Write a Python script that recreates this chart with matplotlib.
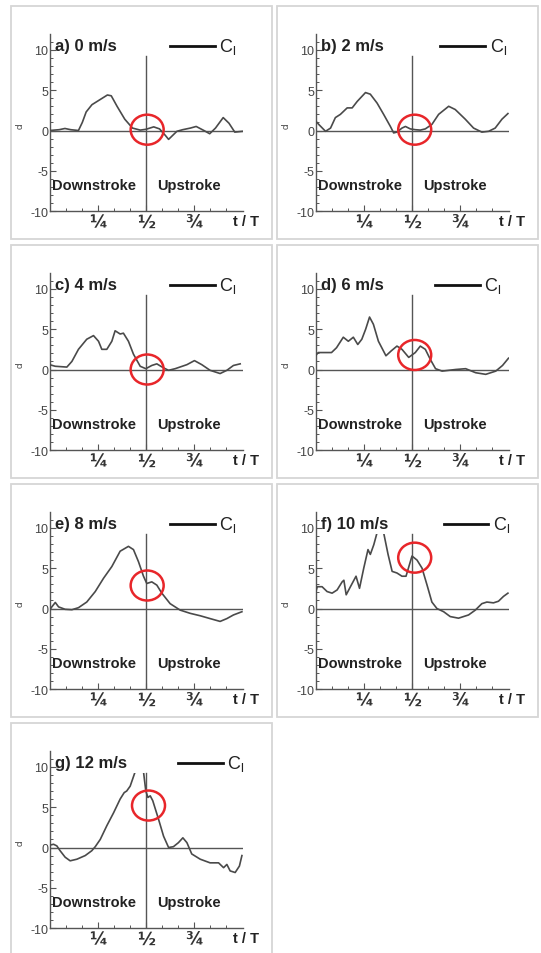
import numpy as np
import matplotlib
matplotlib.use('Agg')
import matplotlib.pyplot as plt
from matplotlib.patches import Ellipse, Rectangle
from matplotlib.ticker import FixedLocator
import matplotlib.transforms as mtrans

plt.rcParams['font.family'] = ['Liberation Sans', 'DejaVu Sans']
plt.rcParams['axes.unicode_minus'] = False

# ---------------- data ----------------
titles = ['a) 0 m/s', 'b) 2 m/s', 'c) 4 m/s', 'd) 6 m/s', 'e) 8 m/s', 'f) 10 m/s', 'g) 12 m/s']

t_a = [0, .05, .08, .11, .15, .17, .19, .22, .26, .30, .32, .35, .39, .43, .47, .50, .54, .57, .60, .617, .66, .69, .73, .76, .80, .83, .86, .90, .93, .96, 1.0]
cl_a = [0, .1, .25, .1, 0, 1.0, 2.3, 3.2, 3.8, 4.4, 4.3, 3.0, 1.4, .3, .05, .15, .45, .2, -.6, -1.1, -.1, .1, .3, .5, 0, -.4, .3, 1.6, .9, -.2, -.1]

t_b = [0, .017, .052, .078, .103, .129, .164, .19, .216, .259, .284, .319, .353, .388, .405, .422, .448, .466, .491, .517, .543, .569, .603, .638, .69, .724, .776, .819, .862, .897, .931, .966, .997]
cl_b = [1.2, .75, -.1, .3, 1.6, 2.0, 2.8, 2.8, 3.6, 4.7, 4.5, 3.4, 2.0, .5, -.3, -.2, .3, .5, .2, .1, .05, .2, .75, 2.0, 3.0, 2.6, 1.4, .3, -.2, -.1, .3, 1.4, 2.1]

t_c = [0, .03, .09, .116, .15, .193, .228, .254, .271, .297, .323, .34, .366, .383, .409, .435, .47, .499, .53, .556, .591, .617, .651, .712, .751, .789, .832, .884, .919, .953, .988]
cl_c = [.6, .4, .3, 1.0, 2.5, 3.75, 4.2, 3.5, 2.5, 2.5, 3.5, 4.8, 4.4, 4.5, 3.5, 1.9, .4, .1, .5, .7, .2, -.1, .1, .6, 1.1, .6, -.1, -.5, -.1, .5, .7]

t_d = [0, .014, .049, .083, .109, .144, .17, .196, .219, .24, .26, .28, .3, .326, .365, .392, .422, .448, .483, .517, .543, .569, .595, .622, .656, .726, .778, .83, .882, .934, .969, 1.0]
cl_d = [1.7, 2.1, 2.1, 2.1, 2.7, 4.0, 3.5, 4.0, 3.1, 3.75, 5.0, 6.5, 5.6, 3.5, 1.7, 2.3, 2.9, 2.5, 1.5, 2.1, 2.9, 2.5, 1.25, .1, -.2, 0, .1, -.4, -.6, -.2, .5, 1.4]

t_e = [0, .012, .03, .047, .081, .116, .15, .193, .237, .28, .323, .366, .409, .435, .461, .487, .504, .53, .556, .582, .625, .677, .729, .781, .832, .884, .919, .953, .997]
cl_e = [-.2, .2, .75, .2, -.1, -.15, .1, .8, 2.1, 3.75, 5.2, 7.1, 7.7, 7.3, 5.8, 4.0, 3.1, 3.3, 2.9, 1.9, .6, -.2, -.6, -.9, -1.25, -1.6, -1.25, -.8, -.4]

t_f = [0, .009, .034, .06, .086, .112, .138, .147, .159, .181, .21, .228, .25, .272, .284, .302, .319, .336, .353, .376, .397, .422, .448, .469, .5, .526, .552, .578, .603, .629, .664, .698, .741, .793, .828, .862, .888, .922, .948, .974, .997]
cl_f = [1.9, 2.7, 2.7, 2.1, 1.9, 2.3, 3.3, 3.5, 1.7, 2.7, 4.0, 2.5, 5.0, 7.3, 6.7, 7.9, 9.4, 10.8, 9.4, 6.7, 4.6, 4.4, 4.0, 4.0, 6.5, 6.0, 5.0, 2.9, .8, 0, -.4, -1.0, -1.2, -.8, -.2, .6, .8, .7, .9, 1.5, 1.9]

t_g = [0, .003, .021, .038, .055, .081, .107, .142, .185, .219, .237, .263, .297, .332, .366, .387, .4, .418, .444, .47, .487, .499, .51, .522, .535, .565, .591, .617, .642, .668, .691, .712, .737, .781, .832, .876, .902, .919, .936, .962, .984, .997]
cl_g = [-.2, .3, .4, .2, -.4, -1.2, -1.65, -1.45, -1.0, -.4, .1, 1.0, 2.7, 4.3, 6.0, 6.8, 7.0, 7.6, 9.4, 11.0, 9.4, 7.0, 6.2, 6.4, 5.8, 3.5, 1.4, 0, .1, .6, 1.2, .6, -.8, -1.45, -1.9, -1.9, -2.5, -2.1, -2.9, -3.1, -2.3, -1.0]

# red circle centres (t, cl)
circ_t = [0.506, 0.514, 0.506, 0.514, 0.506, 0.514, 0.513]
circ_c = [0.1, 0.1, 0.0, 1.8, 2.85, 6.3, 5.2]

series_t = [t_a, t_b, t_c, t_d, t_e, t_f, t_g]
series_c = [cl_a, cl_b, cl_c, cl_d, cl_e, cl_f, cl_g]

xtick_pos = [0.25, 0.5, 0.75]
xtick_lab = ['\u00bc', '\u00bd', '\u00be']
ytick_pos = [-10, -5, 0, 5, 10]

# legend line start per panel (axes t-units)
leg_x = [0.625, 0.647, 0.625, 0.62, 0.625, 0.666, 0.667]

# ---------------- layout ----------------
W, H = 541, 954
fig = plt.figure(figsize=(W / 100, H / 100), dpi=100)

box_left = [11, 277]
box_top = [7, 246, 485, 724]
box_w, box_h = 261, 233
ax_w = 193
px_per_unit = 8.07

gray = '#555555'
for i in range(7):
    row, col = divmod(i, 2)
    bl = box_left[col]
    bt = box_top[row]
    fig.add_artist(Rectangle((bl / W, 1 - (bt + box_h) / H), box_w / W, box_h / H,
                             transform=fig.transFigure, fill=False, ec='#d6d6d6', lw=1.3))
    y0 = bt + 124.5
    top = y0 - 12 * px_per_unit
    bot = y0 + 10 * px_per_unit
    left = bl + 38.5
    ax = fig.add_axes([left / W, 1 - bot / H, ax_w / W, (bot - top) / H])
    ax.set_xlim(0, 1)
    ax.set_ylim(-10, 12)
    for s in ['top', 'right']:
        ax.spines[s].set_visible(False)
    for s in ['left', 'bottom']:
        ax.spines[s].set_color(gray)
        ax.spines[s].set_linewidth(1.0)
    ax.set_facecolor('none')

    ax.xaxis.set_major_locator(FixedLocator(xtick_pos))
    ax.set_xticklabels(xtick_lab)
    ax.xaxis.set_minor_locator(FixedLocator([k / 12 for k in range(1, 12) if k % 3 != 0]))
    ax.yaxis.set_major_locator(FixedLocator(ytick_pos))
    ax.yaxis.set_minor_locator(FixedLocator([v for v in range(-9, 12) if v % 5 != 0]))
    ax.tick_params(which='major', direction='in', length=4, width=0.8, color=gray)
    ax.tick_params(which='minor', direction='in', length=2.5, width=0.7, color=gray)
    ax.tick_params(axis='y', which='major', labelsize=9, labelcolor='#444444', pad=1)
    ax.tick_params(axis='x', which='major', labelsize=12.5, labelcolor='#333333', pad=1.5)
    for lab in ax.get_xticklabels():
        lab.set_fontweight('bold')
        lab.set_family(['DejaVu Sans'])

    # reference lines
    ax.plot([0, 1], [0, 0], color=gray, lw=1.0, zorder=2)
    ax.plot([0.5, 0.5], [-10, 9.2], color=gray, lw=1.0, zorder=2)

    # curve clipped at the top of the vertical line
    line, = ax.plot(series_t[i], series_c[i], color='#4a4a4a', lw=1.2, zorder=3)
    clip = Rectangle((0, -10), 1, 19.2, transform=ax.transData)
    line.set_clip_path(clip)

    # red circle
    ax.add_patch(Ellipse((circ_t[i], circ_c[i]), 33 / ax_w, 30 / px_per_unit,
                         fill=False, ec='#e8262a', lw=1.8, zorder=4))

    # texts
    ax.text(0.03, 10.5, titles[i], fontsize=12, fontweight='bold', color='#222222',
            ha='left', va='center', clip_on=False)
    ax.plot([leg_x[i], leg_x[i] + 0.23], [10.5, 10.5], color='#111111', lw=2.0, clip_on=False)
    ax.text(leg_x[i] + 0.255, 10.5, r'C$_\mathregular{l}$', fontsize=13, color='#222222',
            ha='left', va='center', clip_on=False)
    ax.text(0.014, -6.8, 'Downstroke', fontsize=10.5, fontweight='bold', color='#222222',
            ha='left', va='center')
    ax.text(0.556, -6.8, 'Upstroke', fontsize=10.5, fontweight='bold', color='#222222',
            ha='left', va='center')
    ax.text(1.02, -10.3, 't / T', fontsize=10.5, fontweight='bold', color='#222222',
            ha='center', va='top', transform=mtrans.blended_transform_factory(ax.transAxes, ax.transData),
            clip_on=False)
    ax.text(-0.15, 0.7, 'cl', fontsize=6.5, rotation=90, color='#444444', ha='center', va='center',
            transform=mtrans.blended_transform_factory(ax.transAxes, ax.transData), clip_on=False)

fig.savefig('out.png', dpi=100, facecolor='white')
